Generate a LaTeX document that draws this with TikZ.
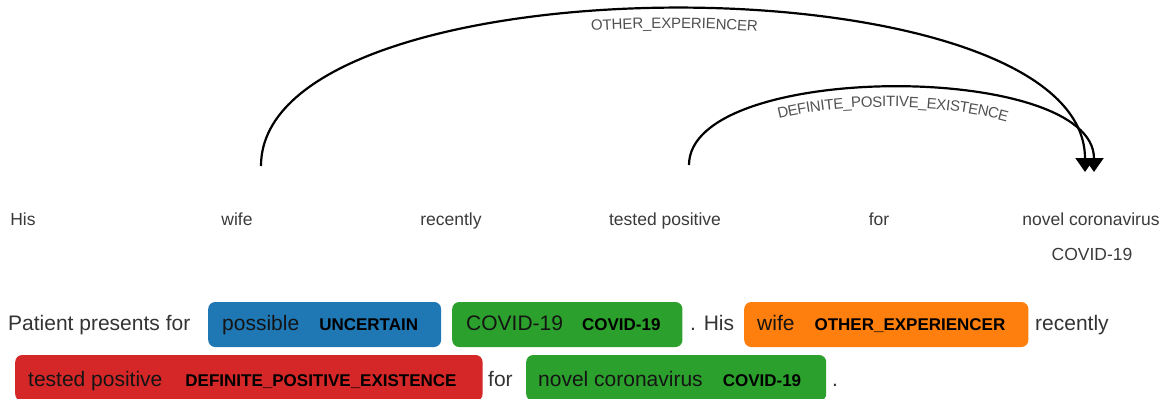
\documentclass[tikz,border=0pt]{standalone}
\usepackage{fontspec}
\setmainfont{Liberation Sans}
\usetikzlibrary{arrows.meta,decorations.text}
\definecolor{entblue}{HTML}{1F77B4}
\definecolor{entgreen}{HTML}{2CA02C}
\definecolor{entorange}{HTML}{FF7F0E}
\definecolor{entred}{HTML}{D62728}
\definecolor{txt}{HTML}{333333}
\definecolor{wordc}{HTML}{3A3A3A}
\definecolor{arclab}{HTML}{505050}
\newcommand\mainsz{\fontsize{21bp}{25bp}\selectfont}
\newcommand\wordsz{\fontsize{17.5bp}{21bp}\selectfont}
\newcommand\arcsz{\fontsize{15bp}{18bp}\selectfont}
\newcommand\lbl[1]{{\fontsize{17bp}{20bp}\selectfont\bfseries\color{black}#1}}
\begin{document}
\begin{tikzpicture}[x=1bp,y=-1bp,
  ent/.style={rounded corners=7bp, inner xsep=0pt, inner ysep=0pt, anchor=west, text=black!92, font=\mainsz},
  entA/.style={ent, minimum height=45bp, text height=15bp, text depth=4bp},
  entB/.style={ent, minimum height=46bp, text height=18bp, text depth=2bp},
  plain/.style={anchor=base west, inner sep=0pt, text=txt, font=\mainsz},
  word/.style={anchor=base, inner sep=0pt, text=wordc, font=\wordsz},
  arcline/.style={line width=2.2bp, draw=black, -{Triangle[width=19bp,length=14bp]}},
]
\useasboundingbox (0,0) rectangle (1164,398);

% dependency words
\node[word] (w1) at (23,225) {His};
\node[word] (w2) at (237,225) {wife};
\node[word] (w3) at (451,225) {recently};
\node[word] (w4) at (665,225) {tested positive};
\node[word] (w5) at (879,225) {for};
\node[word] (w6) at (1091,225) {novel coronavirus};
\node[word] (w6b) at (1092,260) {COVID-19};

% arc endpoints
\coordinate (s1) at (261,166);
\coordinate (s2) at (689,165);
\coordinate (t1) at (1085,172);
\coordinate (t2) at (1094,172);

\draw[arcline] (s1) .. controls +(0,-210) and +(0,-216) .. (t1);
\draw[arcline] (s2) .. controls +(0,-104) and +(0,-111) .. (t2);

\path[decorate, decoration={text along path, text align=center, raise=-19bp,
  text={|\arcsz\color{arclab}|OTHER{\_}EXPERIENCER}}]
  (s1) .. controls +(0,-210) and +(0,-216) .. (t1);
\path[decorate, decoration={text along path, text align=center, raise=-19bp,
  text={|\arcsz\color{arclab}|DEFINITE{\_}POSITIVE{\_}EXISTENCE}}]
  (s2) .. controls +(0,-104) and +(0,-111) .. (t2);

% sentence row 1
\node[plain] (p1) at (8,330) {Patient presents for};
\node[entA, fill=entblue] (n1) at (208,324.5) {\kern14bp possible\kern20bp\lbl{UNCERTAIN}\kern23bp};
\node[entA, fill=entgreen] (n2) at (452,324.5) {\kern14bp COVID-19\kern19bp\lbl{COVID-19}\kern22bp};
\node[plain] (p2) at (690,330) {. His};
\node[entA, fill=entorange] (n3) at (744,324.5) {\kern13bp wife\kern20bp\lbl{OTHER\_EXPERIENCER}\kern23bp};
\node[plain] (p3) at (1035,330) {recently};

% sentence row 2
\node[entB, fill=entred] (n4) at (15,378) {\kern13bp tested positive\kern23bp\lbl{DEFINITE\_POSITIVE\_EXISTENCE}\kern26bp};
\node[plain] (p4) at (488,386) {for};
\node[entB, fill=entgreen] (n5) at (526,378) {\kern12bp novel coronavirus\kern20bp\lbl{COVID-19}\kern25bp};
\node[plain] (p5) at (832,386) {.};
\end{tikzpicture}
\end{document}
